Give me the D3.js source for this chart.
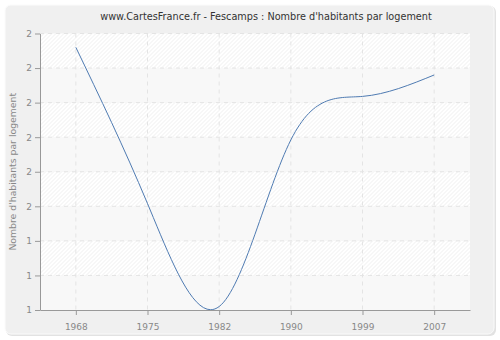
<!DOCTYPE html>
<html>
<head>
<meta charset="utf-8">
<script src="https://cdn.jsdelivr.net/npm/d3@7"></script>
<style>
  body { margin: 0; background: #ffffff; }
  text { font-family: "DejaVu Sans", sans-serif; }
</style>
</head>
<body>
<svg id="chart"></svg>
<script>
// data
const years = ['1968', '1975', '1982', '1990', '1999', '2007'];
const values = [1.730, 1.504, 1.355, 1.596, 1.659, 1.690];
const yTicks = [1.35, 1.40, 1.45, 1.50, 1.55, 1.60, 1.65, 1.70, 1.75];

const title = "www.CartesFrance.fr - Fescamps : Nombre d'habitants par logement";
const yLabel = "Nombre d'habitants par logement";

const width = 500, height = 340;
const margin = {top: 33.5, right: 30, bottom: 30, left: 40};
const innerW = width - margin.left - margin.right;
const innerH = height - margin.top - margin.bottom;

const svg = d3.select('#chart')
    .attr('width', width)
    .attr('height', height);

// hatch pattern
const defs = svg.append('defs');
const pat = defs.append('pattern')
    .attr('id', 'hatch')
    .attr('patternUnits', 'userSpaceOnUse')
    .attr('width', 4)
    .attr('height', 4);
pat.append('rect').attr('width', 4).attr('height', 4).attr('fill', '#ffffff');
pat.append('path')
    .attr('d', 'M-1,1 l2,-2 M0,4 l4,-4 M3,5 l2,-2')
    .attr('stroke', '#efefef')
    .attr('stroke-width', 1);

// outer panel
svg.append('rect')
    .attr('x', 6).attr('y', 6)
    .attr('width', 490).attr('height', 330)
    .attr('rx', 6)
    .attr('fill', '#e2e2e2');
svg.append('rect')
    .attr('x', 5).attr('y', 5)
    .attr('width', 489).attr('height', 329)
    .attr('rx', 6)
    .attr('fill', '#f0f0f0')
    .attr('stroke', '#fbfbfb')
    .attr('stroke-width', 1);

svg.append('text')
    .attr('x', 266)
    .attr('y', 20)
    .attr('text-anchor', 'middle')
    .attr('font-size', 9.7)
    .attr('fill', '#333333')
    .text(title);

const chart = svg.append('g')
    .attr('transform', `translate(${margin.left}, ${margin.top})`);

const xScale = d3.scalePoint()
    .domain(years)
    .range([0, innerW])
    .padding(0.5);

const yScale = d3.scaleLinear()
    .domain([yTicks[0], yTicks[yTicks.length - 1]])
    .range([innerH, 0]);

// alternating bands
const bands = d3.pairs(yTicks);
chart.selectAll('.band')
    .data(bands)
    .join('rect')
    .attr('class', 'band')
    .attr('x', 0)
    .attr('width', innerW)
    .attr('y', d => yScale(d[1]))
    .attr('height', d => yScale(d[0]) - yScale(d[1]))
    .attr('fill', (d, i) => i % 2 ? 'url(#hatch)' : '#f8f8f8');

// grid
chart.selectAll('.hgrid')
    .data(yTicks.slice(1))
    .join('line')
    .attr('class', 'hgrid')
    .attr('x1', 0).attr('x2', innerW)
    .attr('y1', d => yScale(d)).attr('y2', d => yScale(d))
    .attr('stroke', '#e4e4e4')
    .attr('stroke-dasharray', '4,4');

chart.selectAll('.vgrid')
    .data(years)
    .join('line')
    .attr('class', 'vgrid')
    .attr('x1', d => xScale(d)).attr('x2', d => xScale(d))
    .attr('y1', 0).attr('y2', innerH)
    .attr('stroke', '#e4e4e4')
    .attr('stroke-dasharray', '4,4');

// line
const line = d3.line()
    .x((d, i) => xScale(years[i]))
    .y(d => yScale(d))
    .curve(d3.curveNatural);

chart.append('path')
    .datum(values)
    .attr('fill', 'none')
    .attr('stroke', '#4f7bb2')
    .attr('stroke-width', 1)
    .attr('d', line);

// axes
const xAxis = d3.axisBottom(xScale).tickSize(5).tickSizeOuter(0);
const yAxis = d3.axisLeft(yScale).tickValues(yTicks).tickFormat(d3.format('.0f')).tickSize(5).tickSizeOuter(0);

const xAxisG = chart.append('g')
    .attr('transform', `translate(0,${innerH})`)
    .call(xAxis);
const yAxisG = chart.append('g')
    .call(yAxis);

[xAxisG, yAxisG].forEach(g => {
    g.select('.domain').attr('stroke', '#999999');
    g.selectAll('.tick line').attr('stroke', '#999999');
    g.selectAll('.tick text')
        .attr('fill', '#888888')
        .attr('font-size', 9)
        .attr('font-family', '"DejaVu Sans", sans-serif');
});
xAxisG.selectAll('.tick text').attr('dy', '1.3em');

svg.append('text')
    .attr('transform', `translate(16, ${margin.top + innerH / 2}) rotate(-90)`)
    .attr('text-anchor', 'middle')
    .attr('font-size', 9.3)
    .attr('fill', '#888888')
    .text(yLabel);
</script>
</body>
</html>
